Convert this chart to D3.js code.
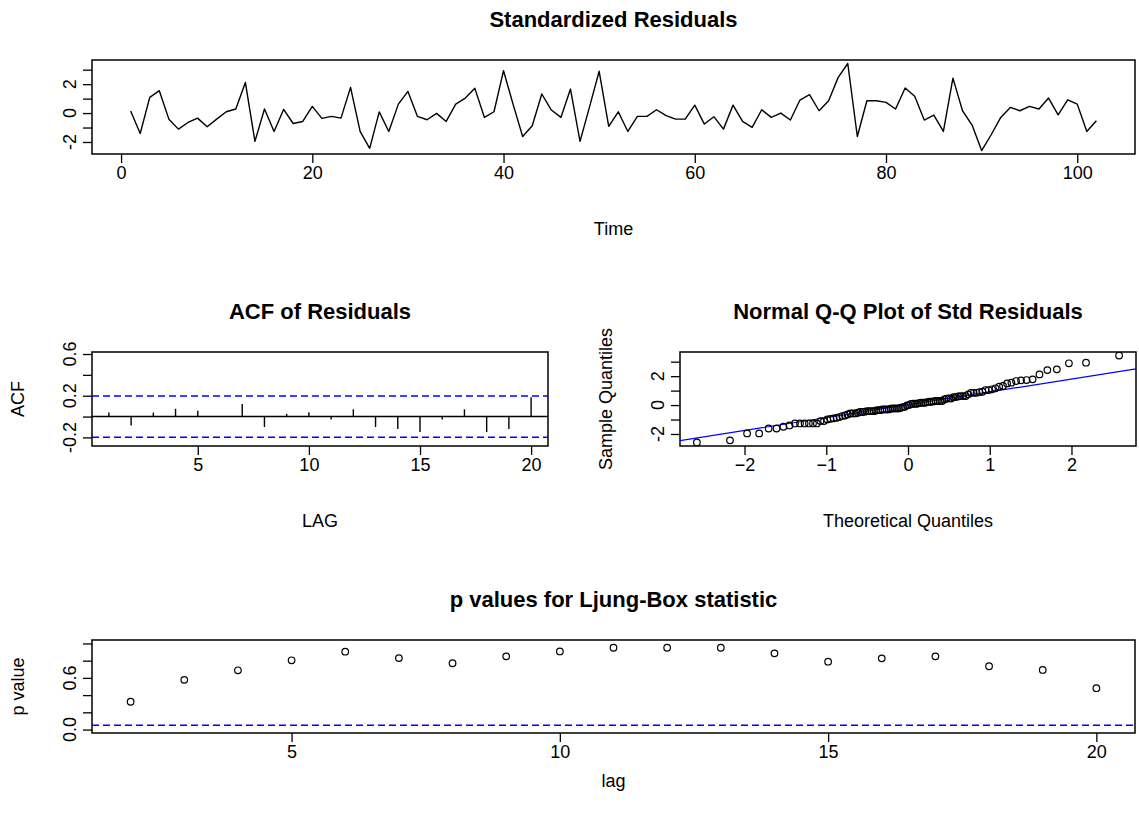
<!DOCTYPE html>
<html>
<head>
<meta charset="utf-8">
<script src="https://cdn.jsdelivr.net/npm/d3@7"></script>
<style>
  body { margin: 0; background: #fff; }
  text { font-family: "Liberation Sans", Arial, sans-serif; fill: #000; }
</style>
</head>
<body>
<div id="chart"></div>
<script>
// standardized residuals, t = 1..102
const resid = [
   0.14, -1.41,  1.09,  1.55, -0.42, -1.11, -0.65, -0.35, -0.95, -0.42,
   0.09,  0.28,  2.12, -1.96,  0.28, -1.27,  0.25, -0.72, -0.58,  0.46,
  -0.37, -0.23, -0.35,  1.78, -1.27, -2.44,  0.08, -1.27,  0.62,  1.50,
  -0.23, -0.46, -0.02, -0.58,  0.62,  1.04,  1.71, -0.30,  0.09,  2.93,
   0.60, -1.62, -0.88,  1.32,  0.21, -0.30,  1.66, -1.96,  0.45,  2.89,
  -0.92,  0.09, -1.27, -0.23, -0.23,  0.23, -0.18, -0.42, -0.42,  0.55,
  -0.76, -0.25, -1.11,  0.55, -0.58, -0.99,  0.23, -0.30,  0.00, -0.48,
   0.90,  1.27,  0.16,  0.85,  2.47,  3.43, -1.62,  0.85,  0.85,  0.74,
   0.28,  1.73,  1.16, -0.48, -0.14, -1.27,  2.42,  0.16, -0.83, -2.59,
  -1.50, -0.30,  0.39,  0.16,  0.46,  0.28,  1.04, -0.12,  0.92,  0.62,
  -1.27, -0.53
];

// ACF of residuals, lags 1..20
const acfLags = [1, 2, 3, 4, 5, 6, 7, 8, 9, 10, 11, 12, 13, 14, 15, 16, 17, 18, 19, 20];
const acfVals = [0.038, -0.086, 0.038, 0.074, 0.055, 0.004, 0.121, -0.100, 0.026, 0.042,
                 -0.028, 0.070, -0.100, -0.120, -0.149, -0.028, 0.070, -0.149, -0.120, 0.186];
const acfBound = 0.198;

// Ljung-Box p values, lags 2..20
const lbLags = [2, 3, 4, 5, 6, 7, 8, 9, 10, 11, 12, 13, 14, 15, 16, 17, 18, 19, 20];
const pVals = [0.323, 0.577, 0.688, 0.804, 0.904, 0.830, 0.770, 0.850, 0.907, 0.950,
               0.950, 0.950, 0.885, 0.788, 0.827, 0.850, 0.735, 0.692, 0.480];
const pLine = 0.05;

// tick values and which ones get a label
const timeTicks = [0, 20, 40, 60, 80, 100];
const residTicks = [-2, -1, 0, 1, 2, 3];
const residLabels = ["-2", "0", "2"];
const lagTicks = [5, 10, 15, 20];
const acfTicks = [-0.2, 0, 0.2, 0.4, 0.6];
const acfLabels = ["-0.2", "0.2", "0.6"];
const qqXTicks = [-2, -1, 0, 1, 2];
const pTicks = [0, 0.2, 0.4, 0.6, 0.8, 1.0];
const pLabels = ["0.0", "0.6"];

const W = 1139, H = 825;
const FS = 18, TFS = 22;

const svg = d3.select("#chart").append("svg")
    .attr("width", W).attr("height", H)
    .style("display", "block");
svg.append("rect").attr("width", W).attr("height", H).attr("fill", "#fff");

// R style 4% extension of the data range
function ext(lo, hi) {
    var d = (hi - lo) * 0.04;
    return [lo - d, hi + d];
}

// inverse normal cdf (Acklam)
function qnorm(p) {
    var a = [-39.69683028665376, 220.9460984245205, -275.9285104469687, 138.3577518672690, -30.66479806614716, 2.506628277459239],
        b = [-54.47609879822406, 161.5858368580409, -155.6989798598866, 66.80131188771972, -13.28068155288572],
        c = [-0.007784894002430293, -0.3223964580411365, -2.400758277161838, -2.549732539343734, 4.374664141464968, 2.938163982698783],
        d = [0.007784695709041462, 0.3224671290700398, 2.445134137142996, 3.754408661907416];
    var q, r;
    if (p < 0.02425) {
        q = Math.sqrt(-2 * Math.log(p));
        return (((((c[0]*q+c[1])*q+c[2])*q+c[3])*q+c[4])*q+c[5]) / ((((d[0]*q+d[1])*q+d[2])*q+d[3])*q+1);
    } else if (p > 1 - 0.02425) {
        q = Math.sqrt(-2 * Math.log(1 - p));
        return -(((((c[0]*q+c[1])*q+c[2])*q+c[3])*q+c[4])*q+c[5]) / ((((d[0]*q+d[1])*q+d[2])*q+d[3])*q+1);
    }
    q = p - 0.5; r = q * q;
    return (((((a[0]*r+a[1])*r+a[2])*r+a[3])*r+a[4])*r+a[5])*q / (((((b[0]*r+b[1])*r+b[2])*r+b[3])*r+b[4])*r+1);
}

// one plot panel: box, axes, title, axis titles
function panel(o) {
    var x = d3.scaleLinear().domain(o.xd).range([o.left, o.right]);
    var y = d3.scaleLinear().domain(o.yd).range([o.bottom, o.top]);
    var g = svg.append("g");
    var xlabOff = o.xlabOff || 75;

    // bottom axis
    var xa = g.append("g")
        .attr("transform", "translate(0," + o.bottom + ")")
        .call(d3.axisBottom(x).tickValues(o.xt).tickSize(9).tickPadding(o.tickPad || 3).tickFormat(d3.format("d")));
    xa.select(".domain").remove();
    xa.selectAll("line").attr("stroke", "#000").attr("stroke-width", 1.3);
    xa.selectAll("text").attr("font-size", FS).attr("fill", "#000")
        .attr("font-family", "Liberation Sans, Arial, sans-serif");

    // left axis, labels parallel to the axis
    var ya = g.append("g")
        .attr("transform", "translate(" + o.left + ",0)")
        .call(d3.axisLeft(y).tickValues(o.yt).tickSize(9).tickFormat(""));
    ya.select(".domain").remove();
    ya.selectAll("line").attr("stroke", "#000").attr("stroke-width", 1.3);
    g.selectAll(".ylab")
        .data(o.yl).enter().append("text")
        .attr("transform", function (d) { return "translate(" + (o.left - 22) + "," + y(+d) + ") rotate(-90)"; })
        .attr("dy", "0.35em")
        .attr("text-anchor", "middle")
        .attr("font-size", FS)
        .text(function (d) { return d; });

    // box
    g.append("rect")
        .attr("x", o.left).attr("y", o.top)
        .attr("width", o.right - o.left).attr("height", o.bottom - o.top)
        .attr("fill", "none").attr("stroke", "#000").attr("stroke-width", 1.5);

    g.append("text")
        .attr("x", (o.left + o.right) / 2).attr("y", o.top - 41)
        .attr("dy", "0.36em")
        .attr("text-anchor", "middle")
        .attr("font-size", TFS).attr("font-weight", "bold")
        .text(o.title);

    if (o.xlab) {
        g.append("text")
            .attr("x", (o.left + o.right) / 2).attr("y", o.bottom + xlabOff)
            .attr("dy", "0.36em")
            .attr("text-anchor", "middle")
            .attr("font-size", FS)
            .text(o.xlab);
    }
    if (o.ylab) {
        g.append("text")
            .attr("transform", "translate(" + (o.left - 74) + "," + (o.top + o.bottom) / 2 + ") rotate(-90)")
            .attr("dy", "0.35em")
            .attr("text-anchor", "middle")
            .attr("font-size", FS)
            .text(o.ylab);
    }
    var clip = "clip" + Math.round(o.left) + "_" + Math.round(o.top);
    svg.append("clipPath").attr("id", clip).append("rect")
        .attr("x", o.left).attr("y", o.top)
        .attr("width", o.right - o.left).attr("height", o.bottom - o.top);
    var plot = g.append("g").attr("clip-path", "url(#" + clip + ")");
    return { x: x, y: y, g: plot };
}

// ---- Standardized Residuals ----
var times = resid.map(function (d, i) { return i + 1; });
var p1 = panel({
    left: 92, right: 1135, top: 60, bottom: 154,
    xd: ext(1, resid.length), yd: ext(d3.min(resid), d3.max(resid)),
    xt: timeTicks, yt: residTicks, yl: residLabels,
    title: "Standardized Residuals", xlab: "Time"
});
p1.g.append("path")
    .datum(resid)
    .attr("fill", "none").attr("stroke", "#000").attr("stroke-width", 1.4)
    .attr("stroke-linejoin", "round")
    .attr("d", d3.line().x(function (d, i) { return p1.x(times[i]); }).y(function (d) { return p1.y(d); }));

// ---- ACF of Residuals ----
var p2 = panel({
    left: 92, right: 548, top: 352, bottom: 446,
    xd: ext(1, 20), yd: ext(d3.min(acfVals) - 0.1, Math.min(1, d3.max(acfVals) + 0.4)),
    xt: lagTicks, yt: acfTicks, yl: acfLabels,
    title: "ACF of Residuals", xlab: "LAG", ylab: "ACF"
});
[acfBound, -acfBound].forEach(function (h) {
    p2.g.append("line")
        .attr("x1", p2.x.range()[0]).attr("x2", p2.x.range()[1])
        .attr("y1", p2.y(h)).attr("y2", p2.y(h))
        .attr("stroke", "#0000ff").attr("stroke-width", 1.4).attr("stroke-dasharray", "7,4");
});
p2.g.append("line")
    .attr("x1", p2.x.range()[0]).attr("x2", p2.x.range()[1])
    .attr("y1", p2.y(0)).attr("y2", p2.y(0))
    .attr("stroke", "#000").attr("stroke-width", 1.4);
p2.g.selectAll(".bar").data(acfVals).enter().append("line")
    .attr("x1", function (d, i) { return p2.x(acfLags[i]); })
    .attr("x2", function (d, i) { return p2.x(acfLags[i]); })
    .attr("y1", p2.y(0)).attr("y2", function (d) { return p2.y(d); })
    .attr("stroke", "#000").attr("stroke-width", 1.4);

// ---- Normal Q-Q Plot ----
var sorted = resid.slice().sort(d3.ascending);
var n = sorted.length;
var theo = sorted.map(function (d, i) { return qnorm((i + 1 - 0.5) / n); });
var q1 = d3.quantile(sorted, 0.25), q3 = d3.quantile(sorted, 0.75);
var slope = (q3 - q1) / (qnorm(0.75) - qnorm(0.25));
var icpt = q1 - slope * qnorm(0.25);
var p3 = panel({
    left: 680, right: 1136, top: 352, bottom: 446,
    xd: ext(d3.min(theo), d3.max(theo)), yd: ext(d3.min(sorted), d3.max(sorted)),
    xt: qqXTicks, yt: residTicks, yl: residLabels,
    title: "Normal Q-Q Plot of Std Residuals", xlab: "Theoretical Quantiles", ylab: "Sample Quantiles"
});
var xr = p3.x.domain();
p3.g.append("line")
    .attr("x1", p3.x(xr[0])).attr("y1", p3.y(icpt + slope * xr[0]))
    .attr("x2", p3.x(xr[1])).attr("y2", p3.y(icpt + slope * xr[1]))
    .attr("stroke", "#0000ff").attr("stroke-width", 1.2);
p3.g.selectAll(".pt").data(sorted).enter().append("circle")
    .attr("cx", function (d, i) { return p3.x(theo[i]); })
    .attr("cy", function (d) { return p3.y(d); })
    .attr("r", 3.3)
    .attr("fill", "none").attr("stroke", "#000").attr("stroke-width", 1.2);

// ---- Ljung-Box p values ----
var p4 = panel({
    left: 92, right: 1135, top: 640, bottom: 733,
    xd: ext(d3.min(lbLags), d3.max(lbLags)), yd: ext(0, 1),
    xt: lagTicks, yt: pTicks, yl: pLabels,
    title: "p values for Ljung-Box statistic", xlab: "lag", ylab: "p value",
    xlabOff: 48
});
p4.g.append("line")
    .attr("x1", p4.x.range()[0]).attr("x2", p4.x.range()[1])
    .attr("y1", p4.y(pLine)).attr("y2", p4.y(pLine))
    .attr("stroke", "#0000ff").attr("stroke-width", 1.4).attr("stroke-dasharray", "7,4");
p4.g.selectAll(".pv").data(pVals).enter().append("circle")
    .attr("cx", function (d, i) { return p4.x(lbLags[i]); })
    .attr("cy", function (d) { return p4.y(d); })
    .attr("r", 3.3)
    .attr("fill", "none").attr("stroke", "#000").attr("stroke-width", 1.2);
</script>
</body>
</html>
